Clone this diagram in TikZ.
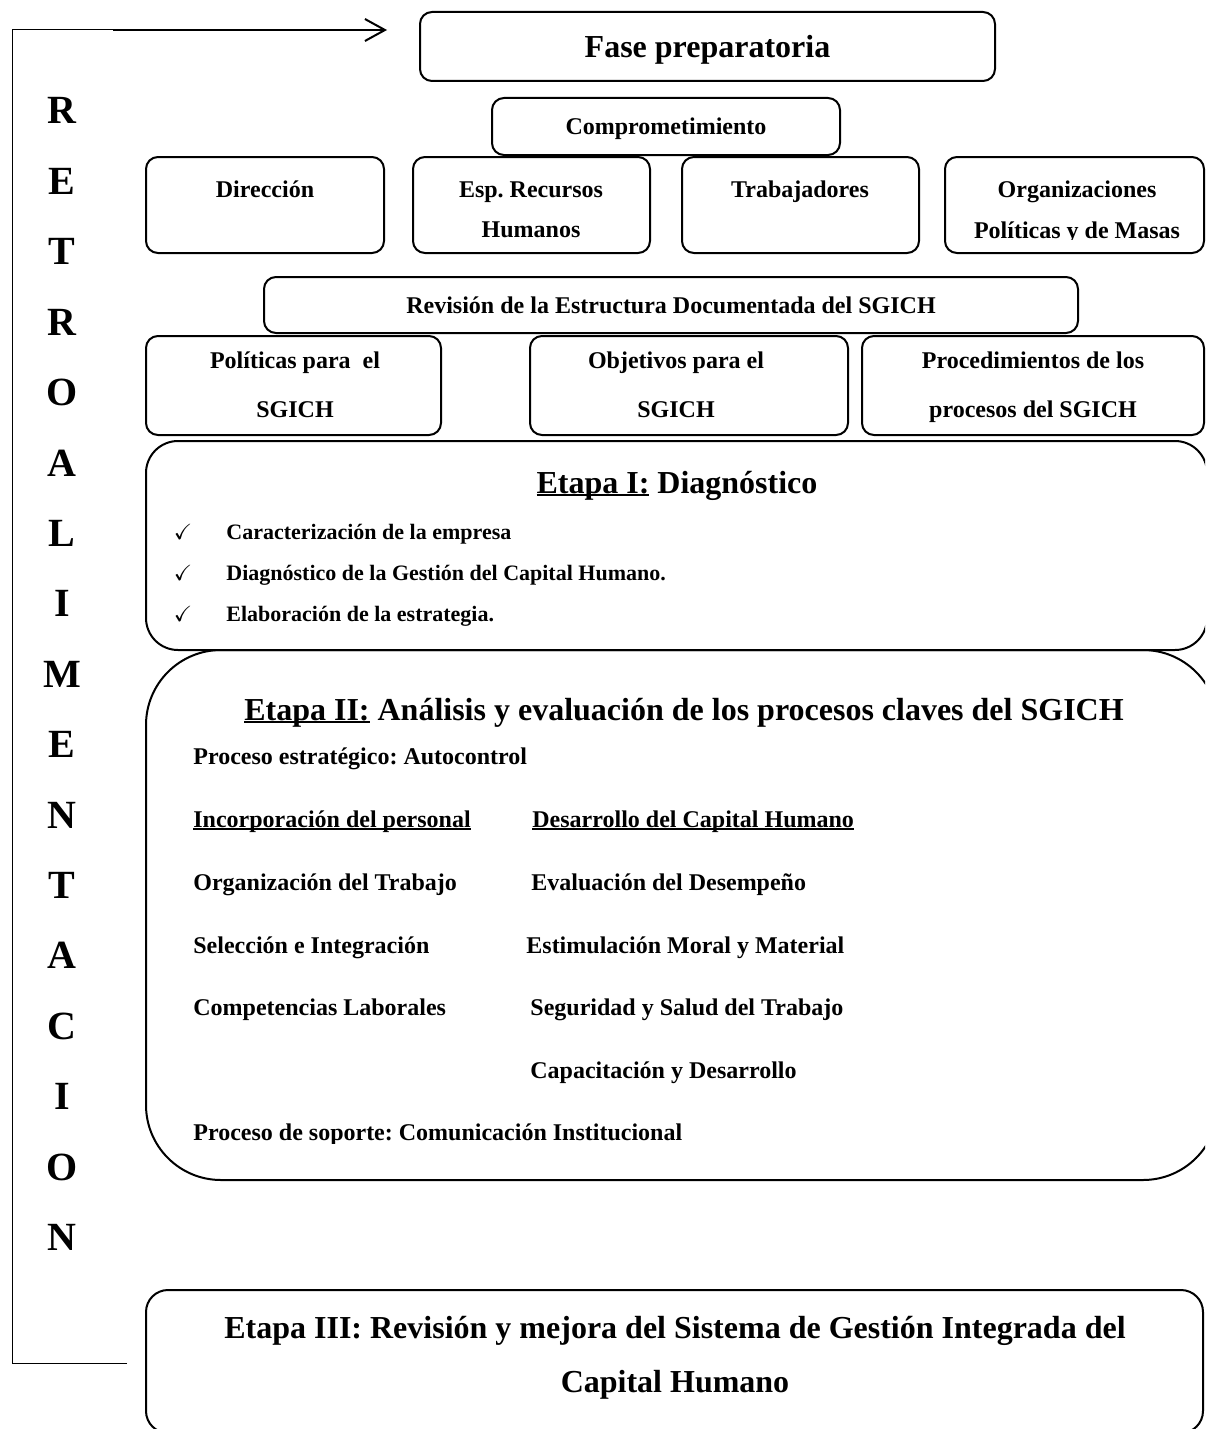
\documentclass[tikz,border=0pt]{standalone}
\usepackage{fontspec}
\usepackage{amssymb}
\setmainfont{Liberation Serif}
\usetikzlibrary{arrows.meta}
\frenchspacing
\newcommand{\subrayado}[1]{\setbox0\hbox{#1}\rlap{\rule[-1.6pt]{\wd0}{0.9pt}}\box0\relax}

\begin{document}
\begin{tikzpicture}[x=0.5pt, y=-0.5pt,
  caja/.style={draw, line width=1pt, rounded corners=6pt, inner sep=0pt, text depth=0pt},
  etapa/.style={draw, line width=1pt, inner sep=0pt},
  txt/.style={font=\fontsize{12}{14}\selectfont\bfseries, anchor=base, inner sep=0pt},
  item/.style={txt, anchor=base west},
  titulo/.style={font=\fontsize{16}{18}\selectfont\bfseries, anchor=base, inner sep=0pt},
  retro/.style={font=\fontsize{20}{22}\selectfont\bfseries, anchor=base, inner sep=0pt}]

\clip (0,0) rectangle (1205,1429);
\useasboundingbox (0,0) rectangle (1205,1429);

% retroalimentacion
\coordinate (fbend) at (127,1363);
\coordinate (fbbot) at (12,1363);
\coordinate (fbtop) at (12,30);
\coordinate (fbmid) at (113,30);
\coordinate (fbtip) at (387,30);
\draw [line width=0.5pt] (fbend) -- (fbbot) -- (fbtop) -- (fbmid);
\draw [line width=1pt, -{Straight Barb[length=10pt,width=11pt]}] (fbmid) -- (fbtip);

\foreach \l [count=\i from 0] in {R,E,T,R,O,A,L,I,M,E,N,T,A,C,I,O,N}
  \node[retro] (r\i) at (62,{124+70.4*\i}) {\l};

% Fase preparatoria
\node[caja, minimum width=287.5pt, minimum height=34.5pt, font=\fontsize{16}{18}\selectfont\bfseries] (fase) at (707.5,46.5) {Fase preparatoria};
\node[caja, minimum width=174pt, minimum height=28.5pt, font=\fontsize{12}{14}\selectfont\bfseries] (comp) at (666,126.5) {Comprometimiento};

\node[caja, minimum width=119pt, minimum height=48pt] (dir) at (265,205) {};
\node[caja, minimum width=118.5pt, minimum height=48pt] (esp) at (531.5,205) {};
\node[caja, minimum width=118.5pt, minimum height=48pt] (trab) at (800.5,205) {};
\node[caja, minimum width=129.5pt, minimum height=48pt] (org) at (1074.5,205) {};

\node[txt] (dirt) at (265,197) {Dirección};
\node[txt] (espa) at (531,197) {Esp. Recursos};
\node[txt] (espb) at (531,237) {Humanos};
\node[txt] (trabt) at (800,197) {Trabajadores};
\node[txt] (orga) at (1077,197) {Organizaciones};
\begin{scope}
  \clip (945,157) rectangle (1204,239);
  \node[txt] (orgb) at (1077,238) {Políticas y de Masas};
\end{scope}

\node[caja, minimum width=407pt, minimum height=28pt, font=\fontsize{12}{14}\selectfont\bfseries] (rev) at (671,305) {Revisión de la Estructura Documentada del SGICH};

\node[caja, minimum width=147.5pt, minimum height=49.5pt] (pol) at (293.5,385.5) {};
\node[caja, minimum width=159pt, minimum height=49.5pt] (obj) at (689,385.5) {};
\node[caja, minimum width=171pt, minimum height=49.5pt] (proc) at (1033,385.5) {};

\node[txt] (pola) at (295,368) {Políticas para\ \ el};
\node[txt] (polb) at (295,417) {SGICH};
\node[txt] (obja) at (676,368) {Objetivos para el};
\node[txt] (objb) at (676,417) {SGICH};
\node[txt] (proca) at (1033,368) {Procedimientos de los};
\node[txt] (procb) at (1033,417) {procesos del SGICH};

% Etapa I
\node[etapa, rounded corners=16pt, minimum width=530.5pt, minimum height=104.5pt] (et1) at (676.5,545.5) {};
\node[titulo] (et1t) at (677,493) {\subrayado{Etapa I:} Diagnóstico};
\foreach \t [count=\i from 0] in {Caracterización de la empresa, Diagnóstico de la Gestión del Capital Humano., Elaboración de la estrategia.} {
  \node[txt, font=\fontsize{11}{13}\selectfont] (chk\i) at (183,{539+41*\i}) {$\checkmark$};
  \node[item, font=\fontsize{11}{13}\selectfont\bfseries] (it\i) at (226,{539+41*\i}) {\t};
}

% Etapa II
\node[etapa, rounded corners=37.5pt, minimum width=536pt, minimum height=265pt] (et2) at (682,915) {};
\node[titulo] (et2t) at (684,720) {\subrayado{Etapa II:} Análisis y evaluación de los procesos claves del SGICH};
\node[item] (estr) at (193,764) {Proceso estratégico: Autocontrol};
\node[item] (inc) at (193,827) {\subrayado{Incorporación del personal}};
\node[item] (des) at (532,827) {\subrayado{Desarrollo del Capital Humano}};
\node[item] (orgt) at (193,890) {Organización del Trabajo};
\node[item] (eval) at (531,890) {Evaluación del Desempeño};
\node[item] (sel) at (193,953) {Selección e Integración};
\node[item] (est) at (526,953) {Estimulación Moral y Material};
\node[item] (comptl) at (193,1015) {Competencias Laborales};
\node[item] (seg) at (530,1015) {Seguridad y Salud del Trabajo};
\node[item] (cap) at (530,1078) {Capacitación y Desarrollo};
\begin{scope}
  \clip (150,1100) rectangle (1200,1143);
  \node[item] (sop) at (193,1140) {Proceso de soporte: Comunicación Institucional};
\end{scope}

% Etapa III
\node[etapa, rounded corners=11pt, minimum width=528.5pt, minimum height=71.5pt] (et3) at (674.5,1361.5) {};
\node[titulo] (et3a) at (675,1338) {Etapa III: Revisión y mejora del Sistema de Gestión Integrada del};
\node[titulo] (et3b) at (675,1392) {Capital Humano};

\end{tikzpicture}
\end{document}
